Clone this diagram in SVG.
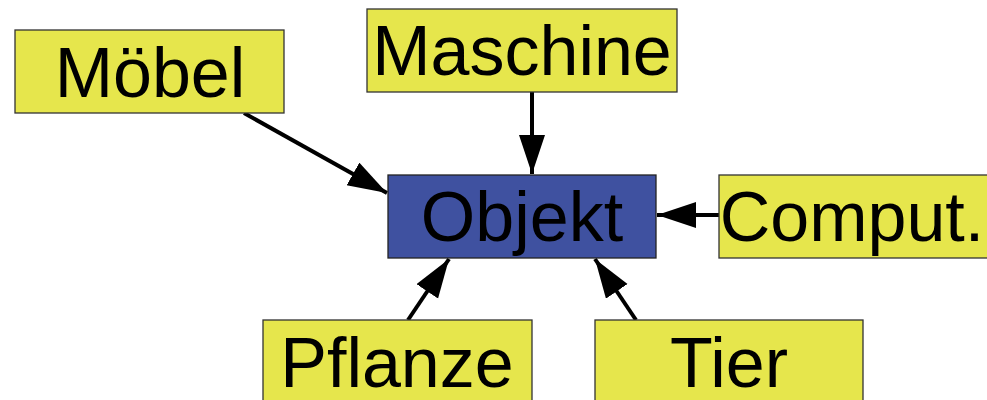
<svg xmlns="http://www.w3.org/2000/svg" width="987" height="400" viewBox="0 0 987 400">
<defs>
<style>
.box{fill:#e6e64c;stroke:#333;stroke-width:1.3}
.main{fill:#3f51a0;stroke:#222;stroke-width:1.3}
.lbl{font-family:"Liberation Sans",Arial,sans-serif;font-size:70px;fill:#000;text-anchor:middle}
.edge{stroke:#000;stroke-width:4;fill:none;marker-end:url(#ah)}
</style>
<marker id="ah" markerUnits="userSpaceOnUse" markerWidth="40" markerHeight="28" refX="39" refY="13" orient="auto">
<path d="M0,0 L39,13 L0,26 Z" fill="#000"/>
</marker>
</defs>
<rect width="987" height="400" fill="#fff"/>
<g id="edges">
<line class="edge" x1="244" y1="113" x2="387" y2="193"/>
<line class="edge" x1="532" y1="92" x2="532" y2="174"/>
<line class="edge" x1="719" y1="215" x2="657" y2="215"/>
<line class="edge" x1="408" y1="320" x2="449" y2="259"/>
<line class="edge" x1="636" y1="320" x2="595" y2="259"/>
</g>
<g id="moebel"><rect class="box" x="15" y="30" width="269" height="83"/><text class="lbl" x="150" y="97">Möbel</text></g>
<g id="maschine"><rect class="box" x="367" y="9" width="310" height="83"/><text class="lbl" x="522" y="75">Maschine</text></g>
<g id="objekt"><rect class="main" x="388" y="175" width="268" height="83"/><text class="lbl" x="522" y="241">Objekt</text></g>
<g id="computer"><rect class="box" x="719" y="175" width="270" height="83"/><text class="lbl" x="852" y="241">Comput.</text></g>
<g id="pflanze"><rect class="box" x="263" y="320" width="269" height="83"/><text class="lbl" x="397" y="387">Pflanze</text></g>
<g id="tier"><rect class="box" x="595" y="320" width="268" height="83"/><text class="lbl" x="729" y="387">Tier</text></g>
</svg>
